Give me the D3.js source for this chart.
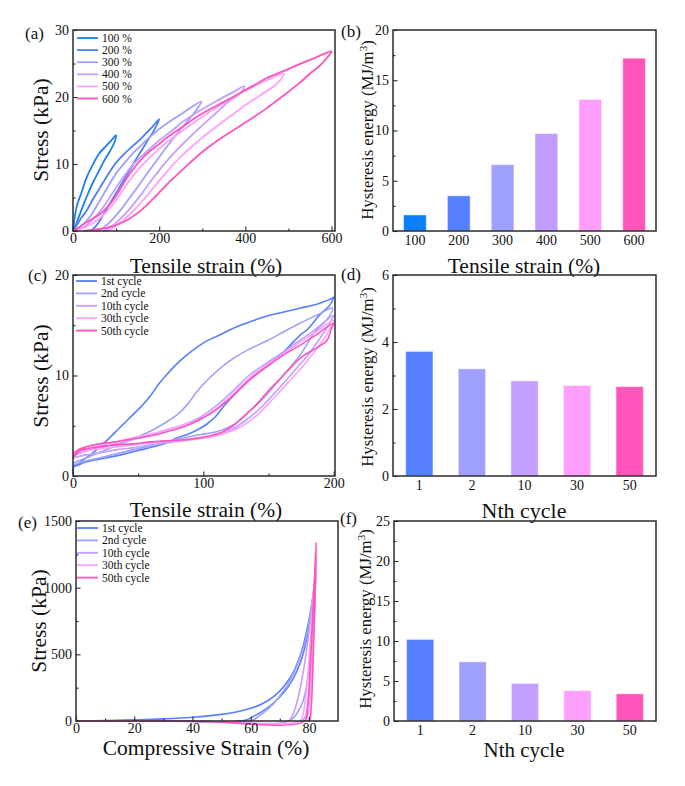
<!DOCTYPE html>
<html><head><meta charset="utf-8">
<script src="https://cdn.jsdelivr.net/npm/d3@7"></script>
<style>body{margin:0;background:#fff} text{font-family:"Liberation Serif","Times New Roman",serif;fill:#111}</style>
</head><body><svg id="c" width="685" height="786"></svg>
<script>
// ---------- DATA ----------
// (a) cyclic tensile loops at increasing strain [strain %, stress kPa]
const loopA100 = [[0,0],[5,2.5],[10,4],[19,5.6],[31,7.9],[45,9.8],[60,11.5],[77,12.7],[90,13.6],[100,14.3],[96,13.2],[89,12.3],[80,11.3],[70,10.2],[58,8.7],[46,7.2],[35,5.6],[26,4.2],[17,2.7],[10,1.5],[4,0.4],[0,0]];
const loopA200 = [[0,0],[10,1],[20,2],[31,3],[45,4.6],[62,6.4],[80,8.3],[100,10.2],[120,11.6],[139,12.7],[155,13.6],[170,14.6],[185,15.6],[200,16.7],[193,15.6],[186,14.8],[174,13.6],[162,12.3],[150,11.1],[139,9.9],[127,8.6],[116,7.4],[104,6.1],[93,4.9],[81,3.6],[70,2.4],[60,1.3],[50,0.5],[40,0]];
const loopA300 = [[0,0],[20,0.8],[40,2.2],[62,4.5],[80,6.5],[100,8.6],[120,10.2],[139,11.6],[155,12.6],[178,14],[200,15.2],[217,16],[240,17],[255,17.6],[275,18.5],[298,19.3],[290,18.4],[280,17.5],[263,16.2],[240,14.4],[217,12.5],[195,10.6],[170,8.4],[147,6.3],[124,4.3],[105,2.7],[85,1.3],[70,0.5],[55,0]];
const loopA400 = [[0,0],[25,0.6],[50,2],[75,4],[100,6.5],[120,8.3],[139,9.9],[160,11.2],[178,12.3],[200,13.5],[230,15],[255,16.3],[290,17.8],[333,19.4],[365,20.5],[398,21.6],[390,20.7],[378,20],[363,19.4],[330,17.5],[294,15.4],[255,13],[217,10.4],[186,7.9],[155,5.2],[130,3.2],[108,1.7],[90,0.7],[70,0]];
const loopA500 = [[0,0],[30,0.6],[60,1.8],[80,3],[100,4.6],[120,6.5],[139,8.2],[160,9.8],[190,11.7],[217,13.2],[255,15],[294,16.8],[333,18.4],[371,19.9],[410,21.3],[450,22.5],[490,23.5],[482,22.6],[470,21.8],[433,20.2],[400,18.8],[371,17.4],[333,15.6],[294,13.6],[255,11.4],[217,8.8],[186,6.4],[160,4.4],[140,3],[120,1.8],[100,0.8],[85,0.2],[75,0]];
const loopA600 = [[0,0],[15,0.6],[31,1.3],[50,2],[62,2.5],[80,3.6],[100,5.2],[120,7.4],[139,9.2],[160,10.8],[178,11.9],[200,13],[217,13.9],[255,15.6],[294,17.3],[333,18.7],[371,20],[410,21.4],[449,22.8],[490,23.9],[526,24.9],[560,25.8],[600,26.8],[590,25.9],[573,24.7],[550,23.5],[526,22.1],[490,20.3],[449,18.3],[410,16.6],[371,15],[333,13.4],[300,11.8],[270,10.1],[240,8.3],[217,6.9],[195,5.4],[170,3.8],[150,2.7],[130,1.8],[108,1.1],[80,0.5],[50,0.2],[25,0]];
const legendA = ["100 %","200 %","300 %","400 %","500 %","600 %"];
const colorsA = ["#1a7ff2","#4f7ff5","#a0a0ff","#c2a0ff","#ffa0ff","#ff55bb"];

// (b) hysteresis energy vs tensile strain
const strainCats = ["100","200","300","400","500","600"];
const energyB = [1.6, 3.5, 6.6, 9.7, 13.1, 17.2];
const barColorsB = ["#0a80ff","#5580ff","#a0a0ff","#c09cff","#ff9eff","#ff55bb"];

// (c) 50 tensile cycles at 200 %
const loopC1 = [[0,0.2],[1,1],[5,1.3],[10,1.8],[20,2.8],[28,3.8],[35,4.7],[46,6.1],[53,7],[59,7.9],[66,9.2],[72,10.1],[80,11.2],[87,12],[95,12.8],[102,13.4],[112,14],[123,14.7],[135,15.3],[148,15.9],[161,16.3],[174,16.7],[187,17.1],[199,17.7],[200,17.8],[197,17],[189,16],[180,14.6],[174,14],[162,12.4],[153,11.5],[145,10.6],[138,10],[130,9],[123,8],[116,7],[110,6],[103,5.2],[97,4.7],[89,4.2],[80,3.8],[70,3.2],[55,2.7],[40,2.2],[25,1.8],[10,1.4],[2,1],[0,1]];
const loopC2 = [[0,1.3],[10,1.8],[25,2.6],[46,3.7],[60,4.5],[72,5.4],[80,6.1],[87,7],[97,8.7],[110,10.4],[123,11.7],[135,12.6],[148,13.4],[161,14.3],[174,15.2],[187,16],[199,16.7],[195,15.6],[186,14.4],[174,12],[161,10],[148,8],[135,6.4],[123,5.1],[110,4.4],[97,4.1],[85,3.8],[72,3.4],[60,3],[46,2.6],[33,2.2],[20,1.8],[10,1.5],[0,1.1]];
const loopC10 = [[0,2],[10,2.5],[20,2.8],[33,3.2],[46,3.6],[60,4.1],[72,4.6],[85,5.1],[97,5.8],[110,7],[123,8.5],[135,10],[148,11.2],[161,12.3],[174,13.5],[186,14.6],[200,16],[196,15],[190,13.8],[180,12],[170,10.5],[160,9],[150,7.6],[140,6.3],[130,5.3],[120,4.5],[110,4],[97,3.7],[85,3.5],[72,3.3],[60,3.1],[46,2.8],[33,2.6],[20,2.3],[10,2.1],[0,1.8]];
const loopC30 = [[0,2.4],[10,2.7],[20,3],[33,3.4],[46,3.8],[60,4.2],[72,4.6],[85,5.1],[97,5.6],[110,6.7],[123,8.2],[135,9.7],[148,11],[161,12.1],[174,13.3],[186,14.3],[200,15.5],[196,14.4],[190,13.2],[180,11.5],[170,10],[160,8.6],[150,7.2],[140,5.9],[130,5],[120,4.4],[110,4],[97,3.8],[85,3.6],[72,3.5],[60,3.3],[46,3.1],[33,2.9],[20,2.7],[10,2.5],[0,2.2]];
const loopC50 = [[0,1.8],[3,2.5],[10,2.9],[20,3.2],[33,3.4],[46,3.7],[60,4],[72,4.4],[85,4.9],[97,5.6],[110,6.6],[123,8],[135,9.5],[148,10.8],[161,12],[174,13],[186,14],[200,15.2],[198,14.6],[195,13.5],[185,12.6],[175,11.8],[160,9.8],[150,8.5],[140,7],[130,5.8],[123,5],[115,4.4],[105,4],[97,3.8],[85,3.6],[72,3.5],[60,3.4],[46,3.2],[33,3.1],[20,2.9],[10,2.7],[5,2.5],[0,1.8]];
const legendCycles = ["1st cycle","2nd cycle","10th cycle","30th cycle","50th cycle"];
const colorsCycles = ["#5580ff","#a0a0ff","#c2a0ff","#ffa0ff","#ff55bb"];

// (d) hysteresis energy vs cycle number (tension)
const cycleCats = ["1","2","10","30","50"];
const energyD = [3.72, 3.2, 2.84, 2.7, 2.67];

// (e) compressive cycles [strain %, stress kPa]
const loopE1 = [[0,0],[10,4],[20,9],[30,16],[40,28],[50,50],[55,68],[60,95],[64,130],[68,185],[71,250],[74,340],[76,430],[78,560],[79.5,700],[80.8,850],[81.8,1000],[82.3,1080],[82.1,1000],[81,830],[79.5,640],[78,500],[76,380],[73,260],[70,180],[67,120],[64,72],[61,35],[59,12],[57,2],[55,0]];
const loopE2 = [[0,0],[30,0],[60,0],[63,40],[66,90],[69,160],[72,250],[75,370],[77,480],[79,620],[80.5,800],[81.5,950],[82.3,1100],[82,950],[81.5,750],[80.5,500],[79.5,300],[78,150],[76,60],[74,10],[73,0]];
const loopE10 = [[0,0],[40,0],[73,0],[74.5,50],[76,150],[77.5,300],[79,500],[80.5,750],[81.5,950],[82.4,1150],[82,900],[81.3,600],[80.5,300],[79.5,100],[78.5,20],[77,0]];
const loopE30 = [[0,0],[40,0],[77,0],[78,50],[79,200],[80,450],[81,750],[82,1050],[82.5,1250],[82.2,1000],[81.5,600],[80.8,300],[80,80],[79,0]];
const loopE50 = [[0,0],[40,0],[78.5,0],[79.5,100],[80.3,350],[81,650],[81.8,1000],[82.5,1340],[82.3,1100],[81.8,700],[81.3,350],[80.8,100],[80.3,10],[79.5,0]];

// (f) hysteresis energy vs cycle number (compression)
const energyF = [10.2, 7.4, 4.7, 3.8, 3.4];

// ---------- DRAWING ----------
const svg = d3.select('#c');
const FRAME = "#2b2b2b";
const TICKFONT = '14px';

function yAxes(g, y, box, major, minor) {
  const ax = g.append('g').attr('transform', `translate(${box.x0},0)`)
    .call(d3.axisLeft(y).tickValues(major).tickSize(-4.5).tickPadding(4).tickFormat(d3.format('d')));
  ax.select('.domain').remove();
  ax.selectAll('text').style('font-size', TICKFONT).style('font-family', '"Liberation Serif",serif');
  ax.selectAll('line').attr('stroke', FRAME).attr('stroke-width', 1.1);
  if (minor) {
    const mx = g.append('g').attr('transform', `translate(${box.x0},0)`)
      .call(d3.axisLeft(y).tickValues(minor).tickSize(-2.5).tickFormat(''));
    mx.select('.domain').remove();
    mx.selectAll('line').attr('stroke', FRAME).attr('stroke-width', 1.1);
  }
}
function xAxes(g, x, box, major, minor) {
  const ax = g.append('g').attr('transform', `translate(0,${box.y1})`)
    .call(d3.axisBottom(x).tickValues(major).tickSize(-4.5).tickPadding(2).tickFormat(d3.format('d')));
  ax.select('.domain').remove();
  ax.selectAll('text').style('font-size', TICKFONT).style('font-family', '"Liberation Serif",serif');
  ax.selectAll('line').attr('stroke', FRAME).attr('stroke-width', 1.1);
  if (minor) {
    const mx = g.append('g').attr('transform', `translate(0,${box.y1})`)
      .call(d3.axisBottom(x).tickValues(minor).tickSize(-2.5).tickFormat(''));
    mx.select('.domain').remove();
    mx.selectAll('line').attr('stroke', FRAME).attr('stroke-width', 1.1);
  }
}
function frame(g, box) {
  g.append('rect').attr('x', box.x0).attr('y', box.y0).attr('width', box.x1 - box.x0).attr('height', box.y1 - box.y0)
    .attr('fill', 'none').attr('stroke', FRAME).attr('stroke-width', 1.5);
}
function panelLabel(txt, x, y) {
  svg.append('text').attr('x', x).attr('y', y).style('font-size', '17px').text(txt);
}
function xTitle(txt, cx, y, size) {
  svg.append('text').attr('x', cx).attr('y', y).attr('text-anchor', 'middle').style('font-size', (size||21.5) + 'px').text(txt);
}
function yTitleStress(cx, cy) {
  svg.append('text').attr('transform', `translate(${cx},${cy}) rotate(-90)`).attr('text-anchor', 'middle')
    .style('font-size', '21.5px').text('Stress (kPa)');
}
function yTitleEnergy(cx, cy) {
  const t = svg.append('text').attr('transform', `translate(${cx},${cy}) rotate(-90)`).attr('text-anchor', 'middle')
    .style('font-size', '16.8px');
  t.append('tspan').text('Hysteresis energy (MJ/m');
  t.append('tspan').attr('dy', -6).style('font-size', '11px').text('3');
  t.append('tspan').attr('dy', 6).text(')');
}
function legend(g, x, y, step, labels, colors) {
  labels.forEach((l, i) => {
    g.append('line').attr('x1', x).attr('x2', x + 21).attr('y1', y + i * step).attr('y2', y + i * step)
      .attr('stroke', colors[i]).attr('stroke-width', 1.8);
    g.append('text').attr('x', x + 25).attr('y', y + i * step + 4).style('font-size', '11.5px').text(l);
  });
}
function loopPanel(box, xd, yd, xMaj, xMin, yMaj, yMin, loops, colors, width) {
  const g = svg.append('g');
  const x = d3.scaleLinear().domain(xd).range([box.x0, box.x1]);
  const y = d3.scaleLinear().domain(yd).range([box.y1, box.y0]);
  const line = d3.line().x(d => x(d[0])).y(d => y(d[1])).curve(d3.curveCatmullRom.alpha(0.5));
  loops.forEach((lp, i) => {
    g.append('path').attr('d', line(lp)).attr('fill', 'none').attr('stroke', colors[i])
      .attr('stroke-width', width).attr('stroke-linejoin', 'round');
  });
  yAxes(g, y, box, yMaj, yMin);
  xAxes(g, x, box, xMaj, xMin);
  frame(g, box);
  return g;
}
function barPanel(box, cats, vals, colors, ymax, yMaj, yMin) {
  const g = svg.append('g');
  const x = d3.scaleBand().domain(cats).range([box.x0, box.x1]).paddingInner(0.48).paddingOuter(0.24);
  const y = d3.scaleLinear().domain([0, ymax]).range([box.y1, box.y0]);
  g.selectAll('rect.bar').data(vals).join('rect').attr('class', 'bar')
    .attr('x', (d, i) => x(cats[i])).attr('width', x.bandwidth())
    .attr('y', d => y(d)).attr('height', d => y(0) - y(d))
    .attr('fill', (d, i) => colors[i]).attr('stroke', '#fff').attr('stroke-opacity', 0.5).attr('stroke-width', 1);
  yAxes(g, y, box, yMaj, yMin);
  const ax = g.append('g').attr('transform', `translate(0,${box.y1})`)
    .call(d3.axisBottom(x).tickSize(0).tickPadding(4));
  ax.select('.domain').remove();
  ax.selectAll('text').style('font-size', TICKFONT).style('font-family', '"Liberation Serif",serif');
  frame(g, box);
}

// Panel boxes
const A = {x0: 73, x1: 335, y0: 30, y1: 231};
const B = {x0: 393, x1: 656, y0: 30, y1: 231};
const C = {x0: 73, x1: 335, y0: 275, y1: 476};
const D = {x0: 393, x1: 656, y0: 275, y1: 476};
const E = {x0: 76, x1: 338, y0: 521, y1: 721};
const F = {x0: 394, x1: 656, y0: 521, y1: 721};

// (a)
const gA = loopPanel(A, [0, 608], [0, 30], [0,200,400,600], [100,300,500], [0,10,20,30], [5,15,25],
  [loopA100, loopA200, loopA300, loopA400, loopA500, loopA600], colorsA, 1.8);
legend(gA, 77, 38, 12.1, legendA, colorsA);
panelLabel('(a)', 25, 39);
yTitleStress(48, 130);
xTitle('Tensile strain (%)', 206, 273);

// (b)
barPanel(B, strainCats, energyB, barColorsB, 20, [0,5,10,15,20], [2.5,7.5,12.5,17.5]);
panelLabel('(b)', 341, 37);
yTitleEnergy(373, 130);
xTitle('Tensile strain (%)', 524, 273);

// (c)
const gC = loopPanel(C, [0, 201], [0, 20], [0,100,200], [50,150], [0,10,20], [5,15],
  [loopC1, loopC2, loopC10, loopC30, loopC50], colorsCycles, 1.6);
legend(gC, 76, 281, 12.4, legendCycles, colorsCycles);
panelLabel('(c)', 28, 281);
yTitleStress(48, 376);
xTitle('Tensile strain (%)', 206, 517);

// (d)
barPanel(D, cycleCats, energyD, colorsCycles, 6, [0,2,4,6], [1,3,5]);
panelLabel('(d)', 341, 280);
yTitleEnergy(373, 377);
xTitle('Nth cycle', 524, 518, 22);

// (e)
const gE = loopPanel(E, [0, 90], [0, 1500], [0,20,40,60,80], [10,30,50,70], [0,500,1000,1500], [250,750,1250],
  [loopE1, loopE2, loopE10, loopE30, loopE50], colorsCycles, 1.6);
legend(gE, 77, 528, 12.4, legendCycles, colorsCycles);
panelLabel('(e)', 18, 528);
yTitleStress(46, 621);
xTitle('Compressive Strain (%)', 206, 755, 21.5);

// (f)
barPanel(F, cycleCats, energyF, colorsCycles, 25, [0,5,10,15,20,25], [2.5,7.5,12.5,17.5,22.5]);
panelLabel('(f)', 340, 524);
yTitleEnergy(371, 619);
xTitle('Nth cycle', 524, 757, 21);
</script>
</body></html>
